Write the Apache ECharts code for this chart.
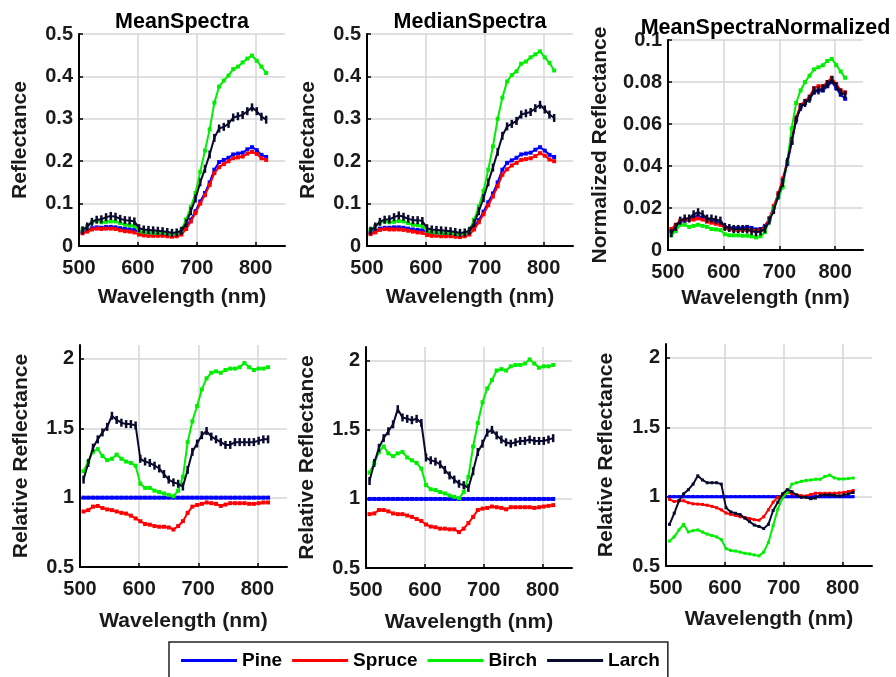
<!DOCTYPE html>
<html>
<head>
<meta charset="utf-8">
<script src="https://cdn.jsdelivr.net/npm/echarts@6/dist/echarts.min.js"></script>
<style>html,body{margin:0;padding:0;background:#fff}#c{width:896px;height:677px}</style>
</head>
<body>
<div id="c"></div>
<script>
const wavelengths = [506,514,522,530,538,546,554,562,570,578,586,594,602,610,618,626,634,642,650,658,666,674,682,690,698,706,714,722,730,738,746,754,762,770,778,786,794,802,810,818];
const xTicks = [500,600,700,800];
const speciesNames = ['Pine','Spruce','Birch','Larch'];
const titles = ['MeanSpectra','MedianSpectra','MeanSpectraNormalized'];

const meanPine   = [0.033,0.037,0.042,0.044,0.043,0.045,0.045,0.044,0.042,0.040,0.039,0.038,0.033,0.031,0.030,0.030,0.030,0.030,0.029,0.028,0.029,0.033,0.045,0.062,0.082,0.105,0.125,0.150,0.180,0.198,0.203,0.208,0.216,0.218,0.220,0.228,0.233,0.226,0.215,0.210];
const meanSpruce = [0.030,0.034,0.039,0.041,0.040,0.041,0.041,0.040,0.037,0.035,0.034,0.032,0.027,0.025,0.024,0.024,0.024,0.024,0.023,0.022,0.023,0.027,0.040,0.058,0.078,0.100,0.120,0.144,0.172,0.186,0.193,0.200,0.207,0.209,0.211,0.218,0.222,0.217,0.207,0.203];
const meanBirch  = [0.039,0.047,0.056,0.059,0.056,0.057,0.058,0.058,0.054,0.050,0.049,0.047,0.036,0.033,0.032,0.031,0.031,0.031,0.030,0.028,0.030,0.038,0.063,0.092,0.125,0.175,0.225,0.275,0.338,0.376,0.390,0.402,0.417,0.423,0.433,0.442,0.449,0.437,0.423,0.408];
const meanLarch  = [0.037,0.046,0.057,0.062,0.063,0.068,0.071,0.069,0.064,0.061,0.060,0.058,0.042,0.039,0.038,0.037,0.036,0.035,0.033,0.031,0.032,0.036,0.054,0.082,0.112,0.150,0.182,0.216,0.255,0.277,0.281,0.288,0.303,0.306,0.309,0.318,0.327,0.318,0.305,0.298];

const medianPine   = [0.032,0.036,0.041,0.043,0.043,0.044,0.044,0.043,0.041,0.039,0.038,0.037,0.032,0.030,0.030,0.029,0.029,0.029,0.028,0.028,0.029,0.033,0.045,0.061,0.081,0.103,0.124,0.150,0.180,0.196,0.202,0.208,0.216,0.218,0.220,0.227,0.233,0.225,0.215,0.210];
const medianSpruce = [0.028,0.032,0.038,0.040,0.039,0.039,0.039,0.038,0.036,0.034,0.032,0.031,0.026,0.024,0.024,0.023,0.023,0.023,0.022,0.021,0.023,0.027,0.039,0.056,0.075,0.096,0.117,0.141,0.168,0.181,0.190,0.196,0.203,0.205,0.207,0.212,0.219,0.213,0.204,0.200];
const medianBirch  = [0.038,0.047,0.055,0.058,0.056,0.057,0.059,0.058,0.054,0.050,0.049,0.047,0.036,0.033,0.032,0.031,0.031,0.030,0.029,0.028,0.030,0.038,0.062,0.093,0.130,0.180,0.235,0.300,0.350,0.388,0.403,0.412,0.430,0.435,0.445,0.452,0.459,0.445,0.432,0.414];
const medianLarch  = [0.036,0.046,0.057,0.062,0.063,0.068,0.072,0.069,0.064,0.061,0.061,0.059,0.042,0.039,0.038,0.037,0.036,0.035,0.033,0.031,0.032,0.036,0.054,0.082,0.113,0.150,0.185,0.222,0.260,0.282,0.288,0.295,0.310,0.313,0.316,0.325,0.333,0.322,0.310,0.302];

const normPine   = [0.0090,0.0115,0.0135,0.0140,0.0145,0.0160,0.0160,0.0155,0.0145,0.0140,0.0135,0.0130,0.0110,0.0105,0.0105,0.0105,0.0105,0.0110,0.0105,0.0098,0.0100,0.0115,0.0150,0.0205,0.0260,0.0330,0.0410,0.0510,0.0620,0.0680,0.0700,0.0720,0.0750,0.0760,0.0760,0.0780,0.0800,0.0770,0.0740,0.0720];
const normSpruce = [0.0100,0.0120,0.0140,0.0145,0.0145,0.0145,0.0150,0.0145,0.0135,0.0130,0.0125,0.0120,0.0105,0.0100,0.0095,0.0095,0.0095,0.0095,0.0093,0.0090,0.0095,0.0110,0.0150,0.0210,0.0270,0.0340,0.0420,0.0520,0.0630,0.0690,0.0710,0.0730,0.0770,0.0780,0.0780,0.0800,0.0820,0.0790,0.0760,0.0750];
const normBirch  = [0.0070,0.0090,0.0120,0.0120,0.0110,0.0115,0.0120,0.0115,0.0110,0.0100,0.0098,0.0095,0.0075,0.0070,0.0070,0.0070,0.0068,0.0068,0.0065,0.0060,0.0065,0.0085,0.0140,0.0200,0.0250,0.0300,0.0420,0.0580,0.0700,0.0760,0.0800,0.0830,0.0860,0.0870,0.0880,0.0900,0.0910,0.0880,0.0850,0.0820];
const normLarch  = [0.0080,0.0110,0.0140,0.0150,0.0150,0.0170,0.0180,0.0170,0.0150,0.0150,0.0145,0.0140,0.0110,0.0105,0.0100,0.0100,0.0100,0.0098,0.0090,0.0085,0.0088,0.0100,0.0140,0.0190,0.0260,0.0320,0.0420,0.0520,0.0620,0.0680,0.0700,0.0720,0.0760,0.0760,0.0770,0.0790,0.0810,0.0780,0.0750,0.0740];

const relMeanPine   = [1,1,1,1,1,1,1,1,1,1,1,1,1,1,1,1,1,1,1,1,1,1,1,1,1,1,1,1,1,1,1,1,1,1,1,1,1,1,1,1];
const relMeanSpruce = [0.90,0.91,0.935,0.94,0.925,0.915,0.91,0.90,0.89,0.885,0.87,0.85,0.83,0.81,0.805,0.795,0.79,0.79,0.785,0.77,0.795,0.83,0.89,0.935,0.947,0.955,0.965,0.96,0.955,0.94,0.95,0.96,0.96,0.96,0.96,0.955,0.955,0.96,0.965,0.965];
const relMeanBirch  = [1.19,1.26,1.33,1.35,1.30,1.27,1.28,1.31,1.28,1.26,1.25,1.23,1.10,1.07,1.07,1.05,1.04,1.03,1.02,1.01,1.05,1.15,1.40,1.55,1.66,1.78,1.86,1.90,1.91,1.90,1.92,1.93,1.93,1.94,1.97,1.94,1.92,1.93,1.93,1.94];
const relMeanLarch  = [1.13,1.25,1.36,1.42,1.47,1.51,1.59,1.56,1.54,1.53,1.53,1.52,1.28,1.26,1.25,1.23,1.21,1.17,1.13,1.11,1.10,1.08,1.20,1.33,1.39,1.45,1.48,1.44,1.42,1.40,1.38,1.38,1.40,1.40,1.40,1.40,1.40,1.41,1.42,1.42];

const relMedianPine   = [1,1,1,1,1,1,1,1,1,1,1,1,1,1,1,1,1,1,1,1,1,1,1,1,1,1,1,1,1,1,1,1,1,1,1,1,1,1,1,1];
const relMedianSpruce = [0.89,0.895,0.92,0.92,0.91,0.895,0.89,0.89,0.88,0.87,0.855,0.84,0.815,0.80,0.795,0.785,0.785,0.78,0.78,0.76,0.785,0.825,0.87,0.92,0.93,0.935,0.945,0.94,0.935,0.925,0.94,0.94,0.94,0.94,0.94,0.935,0.94,0.945,0.95,0.955];
const relMedianBirch  = [1.19,1.26,1.34,1.38,1.33,1.31,1.33,1.34,1.30,1.28,1.26,1.22,1.10,1.07,1.065,1.05,1.04,1.025,1.015,1.005,1.05,1.16,1.38,1.55,1.70,1.80,1.86,1.93,1.94,1.93,1.96,1.97,1.97,1.98,2.01,1.98,1.95,1.96,1.96,1.97];
const relMedianLarch  = [1.13,1.26,1.37,1.44,1.49,1.54,1.65,1.59,1.58,1.57,1.58,1.55,1.30,1.28,1.27,1.25,1.21,1.17,1.14,1.11,1.10,1.08,1.20,1.34,1.40,1.48,1.50,1.46,1.43,1.41,1.40,1.41,1.42,1.42,1.43,1.42,1.42,1.42,1.43,1.44];

const relNormPine   = [1,1,1,1,1,1,1,1,1,1,1,1,1,1,1,1,1,1,1,1,1,1,1,1,1,1,1,1,1,1,1,1,1,1,1,1,1,1,1,1];
const relNormSpruce = [0.98,0.965,0.97,0.97,0.956,0.948,0.946,0.944,0.938,0.93,0.92,0.905,0.882,0.872,0.865,0.855,0.85,0.842,0.834,0.83,0.855,0.905,0.96,0.995,1.01,1.028,1.022,1.014,1.007,1.005,1.015,1.024,1.024,1.024,1.024,1.025,1.027,1.03,1.037,1.044];
const relNormBirch  = [0.68,0.71,0.76,0.80,0.745,0.755,0.76,0.745,0.73,0.72,0.71,0.69,0.625,0.612,0.608,0.60,0.592,0.587,0.58,0.573,0.60,0.67,0.79,0.91,0.99,1.03,1.09,1.10,1.11,1.117,1.12,1.125,1.125,1.145,1.155,1.135,1.127,1.127,1.13,1.134];
const relNormLarch  = [0.80,0.88,0.97,1.02,1.05,1.09,1.15,1.12,1.10,1.10,1.10,1.09,0.92,0.89,0.88,0.87,0.845,0.82,0.795,0.785,0.77,0.80,0.90,0.96,1.02,1.05,1.035,1.01,0.995,0.995,0.985,0.99,1.01,1.012,1.012,1.01,1.005,1.012,1.02,1.03];

const colors = {Pine:'#0000ff', Spruce:'#ff0000', Birch:'#00ee00', Larch:'#0a0a2e'};
const FONT = '"Liberation Sans", Arial, Helvetica, sans-serif';
const TXT = '#1a1a1a';

const panels = [
  {grid:{left:79,top:34,width:206,height:212}, ymin:0, ymax:0.5, yint:0.1, yTicks:[0,0.1,0.2,0.3,0.4,0.5], yname:'Reflectance', ygap:48, xgap:41, data:[meanPine,meanSpruce,meanBirch,meanLarch], title:0, ttop:11},
  {grid:{left:367,top:34,width:206,height:212}, ymin:0, ymax:0.5, yint:0.1, yTicks:[0,0.1,0.2,0.3,0.4,0.5], yname:'Reflectance', ygap:48, xgap:41, data:[medianPine,medianSpruce,medianBirch,medianLarch], title:1, ttop:11},
  {grid:{left:668,top:40,width:195,height:210}, ymin:0, ymax:0.1, yint:0.02, yTicks:[0,0.02,0.04,0.06,0.08,0.1], yname:'Normalized Reflectance', ygap:57, xgap:38, data:[normPine,normSpruce,normBirch,normLarch], title:2, ttop:17},
  {grid:{left:80,top:345,width:207,height:222}, ymin:0.5, ymax:2.1, yint:0.5, yTicks:[0.5,1,1.5,2], yname:'Relative Reflectance', ygap:48, xgap:44, data:[relMeanPine,relMeanSpruce,relMeanBirch,relMeanLarch]},
  {grid:{left:366,top:347,width:206,height:221}, ymin:0.5, ymax:2.1, yint:0.5, yTicks:[0.5,1,1.5,2], yname:'Relative Reflectance', ygap:48, xgap:44, data:[relMedianPine,relMedianSpruce,relMedianBirch,relMedianLarch]},
  {grid:{left:666,top:344,width:206,height:222}, ymin:0.5, ymax:2.1, yint:0.5, yTicks:[0.5,1,1.5,2], yname:'Relative Reflectance', ygap:49, xgap:43, data:[relNormPine,relNormSpruce,relNormBirch,relNormLarch], small:true}
];

const grid = [], xAxis = [], yAxis = [], series = [], title = [];
panels.forEach((p, i) => {
  grid.push(Object.assign({containLabel:false}, p.grid));
  xAxis.push({
    type:'value', gridIndex:i, min:500, max:850, interval:100,
    name:'Wavelength (nm)', nameLocation:'middle', nameGap:p.xgap,
    nameTextStyle:{fontFamily:FONT, fontWeight:'bold', fontSize:21, color:TXT},
    axisLine:{show:true, onZero:false, lineStyle:{color:'#000', width:2}},
    axisTick:{show:true, inside:true, length:4, lineStyle:{color:'#000', width:1.5}, customValues:xTicks},
    axisLabel:{fontFamily:FONT, fontWeight:'bold', fontSize:20, color:TXT, margin:12, customValues:xTicks},
    splitLine:{show:true, lineStyle:{color:'#d6d6d6', width:1.5}}
  });
  yAxis.push({
    type:'value', gridIndex:i, min:p.ymin, max:p.ymax, interval:p.yint,
    name:p.yname, nameLocation:'middle', nameGap:p.ygap, nameRotate:90,
    nameTextStyle:{fontFamily:FONT, fontWeight:'bold', fontSize:21, color:TXT},
    axisLine:{show:true, onZero:false, lineStyle:{color:'#000', width:2}},
    axisTick:{show:true, inside:true, length:4, lineStyle:{color:'#000', width:1.5}, customValues:p.yTicks},
    axisLabel:{fontFamily:FONT, fontWeight:'bold', fontSize:20, color:TXT, margin:6, customValues:p.yTicks},
    splitLine:{show:true, lineStyle:{color:'#d6d6d6', width:1.5}}
  });
  if (p.title !== undefined) {
    title.push({
      text:titles[p.title], left:p.grid.left + p.grid.width/2, top:p.ttop, textAlign:'center', padding:0,
      textStyle:{fontFamily:FONT, fontWeight:'bold', fontSize:21.5, color:'#000'}
    });
  }
  speciesNames.forEach((name, k) => {
    const isLarch = name === 'Larch';
    series.push({
      type:'line', name:name, xAxisIndex:i, yAxisIndex:i,
      data: wavelengths.map((w, j) => [w, p.data[k][j]]),
      symbol:'rect',
      symbolSize: p.small ? 3 : (isLarch ? [2.5, 8] : 4),
      showSymbol:true,
      lineStyle:{color:colors[name], width:(name==='Pine' && i>=3) ? 3 : 2},
      itemStyle:{color:colors[name]},
      animation:false,
      z: 2 + k
    });
  });
});

const chart = echarts.init(document.getElementById('c'), null, {renderer:'canvas'});
chart.setOption({
  backgroundColor:'#fff',
  animation:false,
  title: title,
  grid: grid,
  xAxis: xAxis,
  yAxis: yAxis,
  legend: {
    data: speciesNames,
    left: 169, top: 642,
    orient:'horizontal',
    icon:'rect', itemWidth:56, itemHeight:3, itemGap:10,
    padding:[9, 8, 9, 12],
    borderColor:'#222', borderWidth:1.5,
    textStyle:{fontFamily:FONT, fontWeight:'bold', fontSize:19, color:'#000'}
  },
  series: series
});
</script>
</body>
</html>
